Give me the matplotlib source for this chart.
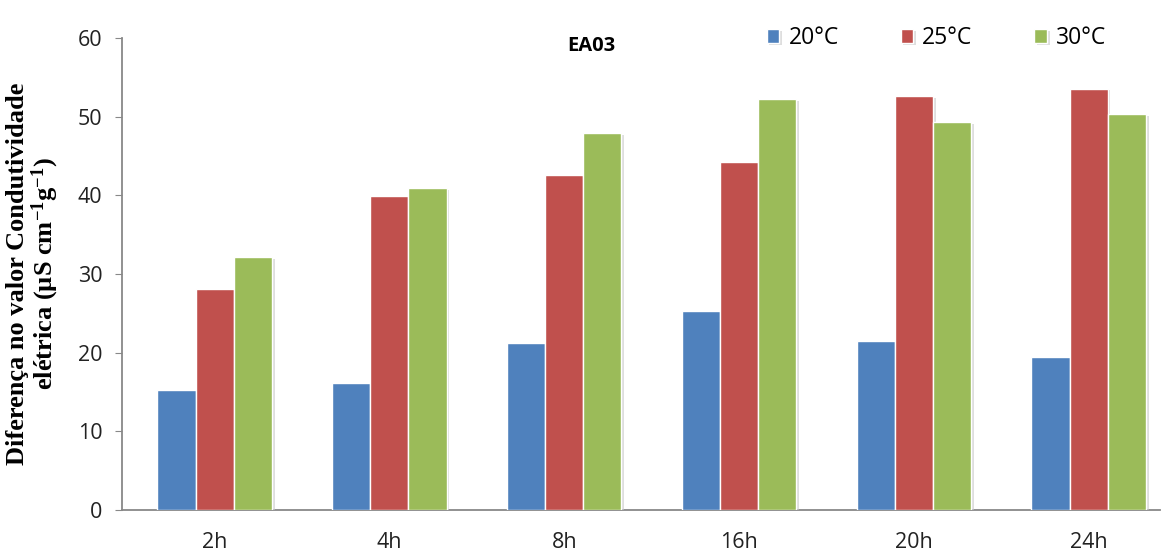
import matplotlib
matplotlib.use("Agg")
import matplotlib.pyplot as plt
import matplotlib.patheffects as pe
import numpy as np

# data
categories = ["2h", "4h", "8h", "16h", "20h", "24h"]
series_names = ["20°C", "25°C", "30°C"]
t20 = [15.3, 16.1, 21.2, 25.3, 21.5, 19.4]
t25 = [28.1, 39.9, 42.6, 44.2, 52.6, 53.5]
t30 = [32.1, 40.9, 47.9, 52.2, 49.3, 50.3]

COLORS = ["#4F81BD", "#C0504D", "#9BBB59"]

plt.rcParams["font.family"] = ["Open Sans", "DejaVu Sans"]
plt.rcParams["mathtext.fontset"] = "custom"
plt.rcParams["mathtext.rm"] = "Liberation Serif:bold"
plt.rcParams["mathtext.bf"] = "Liberation Serif:bold"

fig = plt.figure(figsize=(11.64, 5.58), dpi=100)
ax = fig.add_axes([0.1048, 0.086, 0.892, 0.846])

x = np.arange(len(categories))
width = 0.218
shadow = [pe.SimplePatchShadow(offset=(2, -1), shadow_rgbFace="#c8c8c8", alpha=0.6), pe.Normal()]
for k, (vals, name) in enumerate(zip([t20, t25, t30], series_names)):
    bars = ax.bar(x + (k - 1) * width, vals, width, color=COLORS[k],
                  edgecolor="white", linewidth=1.0, label=name, zorder=3)
    for b in bars:
        b.set_path_effects(shadow)

ax.set_xlim(-0.53, 5.41)
ax.set_ylim(0, 60)
ax.set_yticks(range(0, 61, 10))
ax.set_xticks(x)
ax.set_xticklabels(categories)
ax.tick_params(axis="x", length=0, pad=16, labelsize=15.5, colors="#222222")
ax.tick_params(axis="y", length=5, direction="out", pad=9, labelsize=15.5,
               color="#888888", labelcolor="#222222")

for side in ["top", "right"]:
    ax.spines[side].set_visible(False)
for side in ["left", "bottom"]:
    ax.spines[side].set_color("#888888")
    ax.spines[side].set_linewidth(1.3)

ax.set_ylabel("Diferença no valor Condutividade\nelétrica (µS cm$\\mathregular{^{-1}}$g$\\mathregular{^{-1}}$)",
              family="Liberation Serif", fontweight="bold", fontsize=19, labelpad=12,
              linespacing=1.05)

ax.text(0.452, 1.005, "EA03", transform=ax.transAxes, ha="center", va="top",
        fontsize=14.5, fontweight="bold")

leg = ax.legend(loc="upper right", bbox_to_anchor=(0.968, 1.068), ncol=3, frameon=False,
                fontsize=16.5, handlelength=0.55, handleheight=0.55, handletextpad=0.4,
                columnspacing=2.7)

fig.savefig("out.png", dpi=100)
